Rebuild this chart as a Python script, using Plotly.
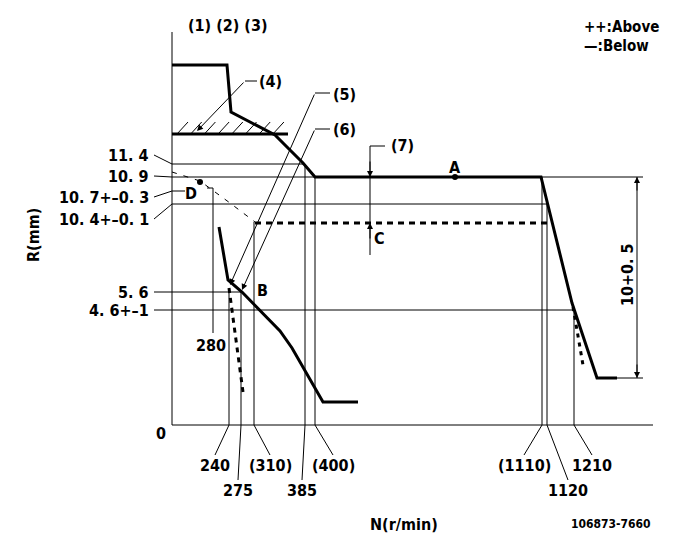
import plotly.graph_objects as go

# ---------------- data (schematic drawing units) ----------------
# Full-load / governor curve (1)(2)(3) -> A -> droop 1110/1120/1210
main_x = [172, 227, 231, 250, 275, 290, 303, 315, 541, 572, 597, 617]
main_y = [65, 65, 112, 122, 135, 150, 163, 177, 177, 303, 378, 378]
# Idle curve through B
idle_x = [219, 228, 242, 255, 268, 280, 292, 303, 314, 323, 358]
idle_y = [227, 280, 292, 305, 318, 331, 348, 367, 385, 402, 402]
# Stop lever line (4)
stop_x = [172, 288]
stop_y = [134, 134]
# Dashed (C) level
c_x = [255, 547]
c_y = [223, 223]
# thin dashed D curve
d_x = [172, 200, 230, 255]
d_y = [172, 181, 203, 222]
# thick dashed lower branches
idle_dash_x = [229, 243]
idle_dash_y = [288, 392]
droop_dash_x = [573, 583]
droop_dash_y = [307, 365]

# R (mm) labels and their reference levels
r_labels = ["11. 4", "10. 9", "10. 7+–0. 3", "10. 4+–0. 1", "5. 6", "4. 6+–1"]
r_label_y = [155, 176, 197, 219, 292, 310]
r_level_y = [164, 177, 191, 204, 292, 310]
r_level_end = [305, 643, 185, 547, 242, 574]

# N (r/min) labels and their reference positions
n_labels = ["240", "275", "(310)", "385", "(400)", "(1110)", "1120", "1210"]
n_pos = [229, 241, 254, 305, 315, 542, 547, 574]
n_top = [292, 292, 222, 164, 177, 177, 204, 310]
n_text_x = [215, 238, 270, 302, 333, 524, 568, 592]
n_text_y = [465, 490, 465, 490, 465, 465, 490, 465]

FONT = "Liberation Sans Narrow, DejaVu Sans Condensed, Arial Narrow, sans-serif"
BLACK = "#000000"
PAGE_OFFSET = 8  # default page margin around the plot div

fig = go.Figure()


def segs(pairs):
    xs, ys = [], []
    for (x0, y0), (x1, y1) in pairs:
        xs += [x0, x1, None]
        ys += [y0, y1, None]
    return xs, ys


def add_line(xs, ys, width=1, dash="solid"):
    fig.add_trace(go.Scatter(x=xs, y=ys, mode="lines", hoverinfo="skip",
                             line=dict(color=BLACK, width=width, dash=dash),
                             showlegend=False))


# axes frame
thin = [((172, 32), (172, 425)), ((172, 425), (653, 425))]
# R reference lines + leaders
for yl, yt, xe in zip(r_level_y, r_label_y, r_level_end):
    thin.append(((172, yl), (xe, yl)))
    thin.append(((154, yt), (172, yl)))
# N reference verticals + leaders to labels
for xp, yt, tx, ty in zip(n_pos, n_top, n_text_x, n_text_y):
    thin.append(((xp, yt), (xp, 425)))
    thin.append(((xp, 425), (tx, ty - 10)))
# D marker / 280 line
thin += [((207, 188), (213, 188)), ((213, 188), (213, 333))]
# (4)(5)(6) leader horizontals
thin += [((245, 81), (257, 81)), ((315, 93), (330, 93)), ((315, 129), (330, 129))]
# (7) leader
thin += [((370, 146), (385, 146)), ((370, 146), (370, 255))]
# right dimension
thin += [((637, 177), (637, 378)), ((617, 378), (643, 378))]
# hatch on stop line
for i in range(8):
    x0 = 177 + 13.7 * i
    thin.append(((x0, 134), (x0 + 11, 122)))
xs, ys = segs(thin)
add_line(xs, ys, width=1)

add_line(main_x, main_y, width=3)
add_line(idle_x, idle_y, width=3)
add_line(stop_x, stop_y, width=3)
add_line(c_x, c_y, width=3, dash="6px,5px")
add_line(d_x, d_y, width=1, dash="5px,7px")
add_line(idle_dash_x, idle_dash_y, width=3, dash="5px,5px")
add_line(droop_dash_x, droop_dash_y, width=3, dash="4px,5px")

# points D and A
fig.add_trace(go.Scatter(x=[200, 455], y=[182, 177], mode="markers", hoverinfo="skip",
                         marker=dict(color=BLACK, size=6), showlegend=False))

ann = []


def txt(x, y, s, size=16, xanchor="center", angle=0):
    ann.append(dict(x=x, y=y, text=s, showarrow=False, xanchor=xanchor, yanchor="middle",
                    textangle=angle, font=dict(family=FONT, size=size, color=BLACK, weight="bold")))


def arrow(hx, hy, tx, ty):
    ann.append(dict(x=hx, y=hy, ax=tx, ay=ty, xref="x", yref="y", axref="x", ayref="y",
                    text="", showarrow=True, arrowhead=2, arrowsize=1.2, arrowwidth=1,
                    arrowcolor=BLACK, standoff=0, startstandoff=0))


for s, y in zip(r_labels, r_label_y):
    txt(151, y, s, xanchor="right")
for s, x, y in zip(n_labels, n_text_x, n_text_y):
    txt(x, y, s)

txt(228, 25, "(1) (2) (3)")
txt(257, 81, "(4)", xanchor="left")
txt(331, 94, "(5)", xanchor="left")
txt(331, 129, "(6)", xanchor="left")
txt(389, 145, "(7)", xanchor="left")
txt(455, 167, "A")
txt(379, 238, "C")
txt(262, 290, "B")
txt(191, 193, "D")
txt(211, 345, "280")
txt(161, 433, "0")
txt(627, 275, "10+0. 5", angle=-90)
txt(33, 235, "R(mm)", angle=-90)
txt(404, 524, "N(r/min)")
txt(611, 524, "106873-7660", size=12)
txt(582, 27, "++:Above", xanchor="left", size=15)
txt(582, 46, "—:Below", xanchor="left", size=15)

arrow(197, 131, 245, 81)
arrow(230, 285, 315, 93)
arrow(242, 290, 315, 129)
arrow(370, 177, 370, 160)
arrow(370, 223, 370, 240)
arrow(637, 177, 637, 192)
arrow(637, 378, 637, 363)

W, H = 681, 549
fig.update_layout(
    width=W - PAGE_OFFSET, height=H - PAGE_OFFSET,
    margin=dict(l=0, r=0, t=0, b=0),
    paper_bgcolor="white", plot_bgcolor="white",
    xaxis=dict(range=[PAGE_OFFSET, W], visible=False, fixedrange=True),
    yaxis=dict(range=[H, PAGE_OFFSET], visible=False, fixedrange=True),
    annotations=ann,
)

fig.write_html("out.html", config={"displayModeBar": False})
